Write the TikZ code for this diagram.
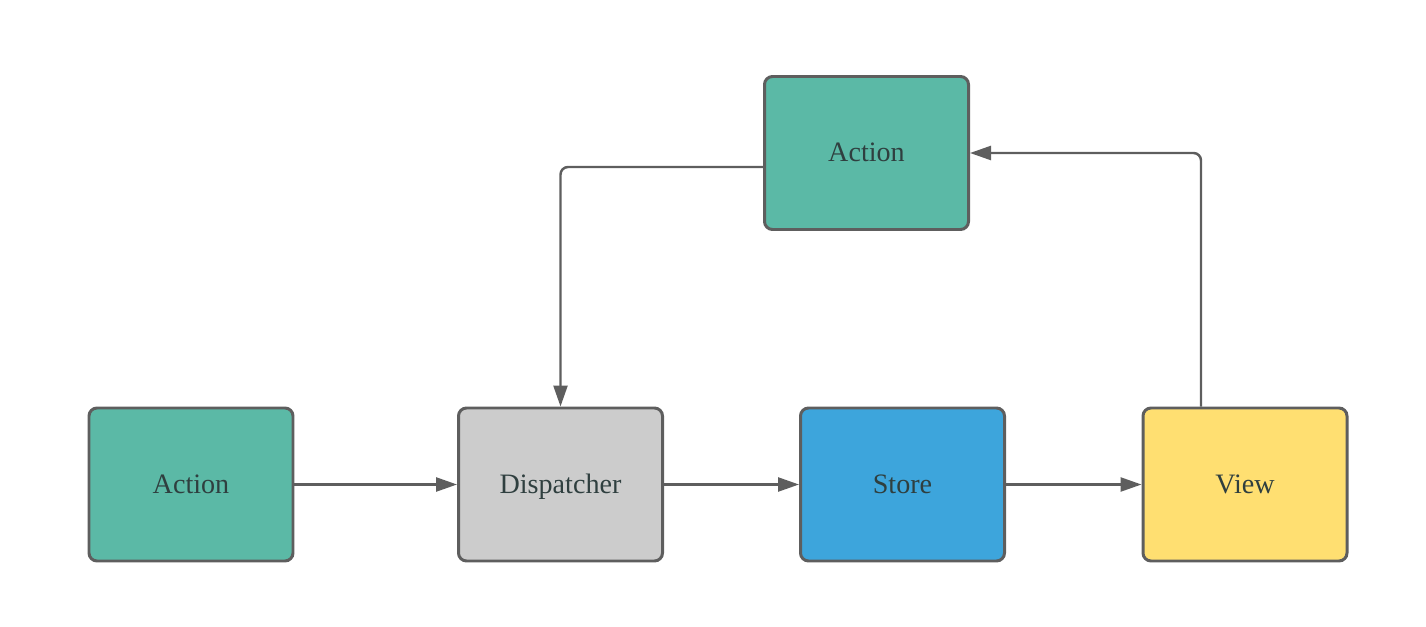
\documentclass[tikz,border=0pt]{standalone}
\usepackage{fontspec}
\setmainfont{Liberation Serif}
\usetikzlibrary{arrows.meta, positioning}

\definecolor{boxline}{HTML}{5E5E5E}
\definecolor{actfill}{HTML}{5BB9A6}
\definecolor{dispfill}{HTML}{CCCCCC}
\definecolor{storefill}{HTML}{3DA5DC}
\definecolor{viewfill}{HTML}{FFDF71}
\definecolor{labeltext}{HTML}{2F3F3F}

\tikzset{
  fluxbox/.style={draw=boxline, line width=1.7pt, rounded corners=0.16cm,
                  minimum width=4.08cm, minimum height=3.06cm,
                  text height=1em, text depth=0em,
                  font=\fontsize{16}{19}\selectfont, text=labeltext},
  flow/.style={draw=boxline, line width=1.4pt, rounded corners=0.15cm,
               -{Triangle[length=0.42cm, width=0.28cm]}}
}

\begin{document}
\begin{tikzpicture}
  \useasboundingbox (0,0) rectangle (28.52,12.52);

  \node[fluxbox, fill=actfill] (act) at (3.82,2.83) {Action};
  \node[fluxbox, fill=dispfill] (disp) at (11.21,2.83) {Dispatcher};
  \node[fluxbox, fill=storefill] (store) at (18.05,2.83) {Store};
  \node[fluxbox, fill=viewfill] (view) at (24.9,2.83) {View};
  \node[fluxbox, fill=actfill] (top) at (17.33,9.46) {Action};

  \draw[flow] (act) -- (disp);
  \draw[flow] (disp) -- (store);
  \draw[flow] (store) -- (view);
  \draw[flow] ([xshift=-0.88cm]view.north) |- (top.east);
  \draw[flow] ([yshift=-0.28cm]top.west) -| (disp.north);
\end{tikzpicture}
\end{document}
